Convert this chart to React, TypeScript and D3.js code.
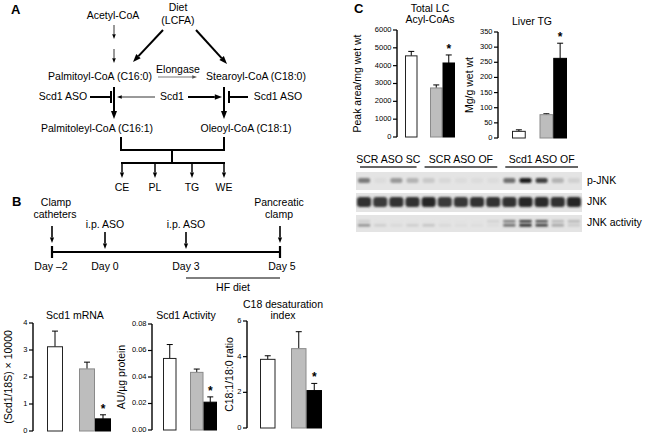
import * as d3 from 'd3';

const FONT = '"Liberation Sans", Arial, Helvetica, sans-serif';

// bar groups (same order in every bar chart)
const groups = ['SCR ASO SC', 'gap', 'SCR ASO OF', 'Scd1 ASO OF'];
const barGroups = ['SCR ASO SC', 'SCR ASO OF', 'Scd1 ASO OF'];

// panel B bar charts
const mrnaValues = [3.12, 2.3, 0.45];
const mrnaErr = [0.58, 0.25, 0.15];
const mrnaTicks = [0, 1, 2, 3, 4];

const activityValues = [0.054, 0.0435, 0.021];
const activityErr = [0.0105, 0.0025, 0.004];
const activityTicks = [0, 0.02, 0.04, 0.06, 0.08];

const desatValues = [3.85, 4.45, 2.1];
const desatErr = [0.2, 0.95, 0.4];
const desatTicks = [0, 2, 4, 6];

// panel C bar charts
const acylValues = [4550, 2750, 4150];
const acylErr = [250, 170, 450];
const acylTicks = [0, 1000, 2000, 3000, 4000, 5000, 6000];

const tgValues = [22, 77, 263];
const tgErr = [5, 3, 50];
const tgTicks = [0, 50, 100, 150, 200, 250, 300, 350];

const significant = [false, false, true];

// timeline
const timelineDays = [-2, 0, 3, 5];
const timelineLabels = ['Day \u20132', 'Day 0', 'Day 3', 'Day 5'];

// western blot lane intensities (14 lanes)
const blotGroups = ['SCR ASO SC', 'SCR ASO OF', 'Scd1 ASO OF'];
const blotGroupLanes = [4, 5, 5];
const pJnk = [0.5, 0.03, 0.35, 0.22, 0.12, 0.05, 0.03, 0.03, 0.03, 0.55, 0.95, 0.78, 0.22, 0.08];
const jnk = [0.85, 0.8, 0.85, 0.85, 0.9, 0.8, 0.82, 0.85, 0.85, 0.85, 0.9, 0.88, 0.85, 0.9];
const jnkActLow = [0.4, 0.1, 0.05, 0.1, 0.15, 0.05, 0.03, 0.03, 0.03, 0.6, 0.95, 0.85, 0.3, 0.12];
const jnkActHigh = [0.1, 0, 0, 0, 0, 0, 0, 0, 0.08, 0.5, 0.85, 0.7, 0.2, 0.2];

const fills = ['#ffffff', '#bdbdbd', '#000000'];
const strokes = ['#222', '#8a8a8a', '#000'];

type BarProps = {
  axisX: number;
  yTop: number;
  yBottom: number;
  x0: number;
  x1: number;
  values: number[];
  errs: number[];
  ticks: number[];
  fmt: (v: number) => string;
  title: string[];
  titleX: number;
  titleY: number;
  ylabel: string;
  ylabelX: number;
};

function BarChart(p: BarProps) {
  const max = p.ticks[p.ticks.length - 1];
  const y = d3.scaleLinear().domain([0, max]).range([p.yBottom, p.yTop]);
  const x = d3.scaleBand<string>().domain(groups).range([p.x0, p.x1]).padding(0);
  const bw = x.bandwidth();
  return (
    <g>
      {p.title.map((t, i) => (
        <text key={i} x={p.titleX} y={p.titleY + i * 11} textAnchor="middle" fontSize={10.5}>
          {t}
        </text>
      ))}
      <text
        transform={`translate(${p.ylabelX},${(p.yTop + p.yBottom) / 2}) rotate(-90)`}
        textAnchor="middle"
        dominantBaseline="middle"
        fontSize={10.5}
      >
        {p.ylabel}
      </text>
      <line x1={p.axisX} x2={p.axisX} y1={y(max)} y2={y(0)} stroke="#000" strokeWidth={1.4} />
      {p.ticks.map((t) => (
        <g key={t}>
          <line x1={p.axisX - 4} x2={p.axisX} y1={y(t)} y2={y(t)} stroke="#000" strokeWidth={1.2} />
          <text x={p.axisX - 5.5} y={y(t)} textAnchor="end" dominantBaseline="middle" fontSize={7.5}>
            {p.fmt(t)}
          </text>
        </g>
      ))}
      {barGroups.map((g, i) => {
        const bx = x(g)!;
        const top = y(p.values[i] + p.errs[i]);
        const cx = bx + bw / 2;
        return (
          <g key={g}>
            <line x1={cx} x2={cx} y1={y(p.values[i])} y2={top} stroke="#000" strokeWidth={1} />
            <line x1={cx - 3} x2={cx + 3} y1={top} y2={top} stroke="#000" strokeWidth={1} />
            <rect
              x={bx + 0.5}
              y={y(p.values[i])}
              width={bw - 1}
              height={y(0) - y(p.values[i])}
              fill={fills[i]}
              stroke={strokes[i]}
              strokeWidth={1}
            />
            {significant[i] && (
              <text x={cx} y={top - 2} textAnchor="middle" fontSize={12} fontWeight="bold">
                *
              </text>
            )}
          </g>
        );
      })}
    </g>
  );
}

function Arrow({
  x1,
  y1,
  x2,
  y2,
  w = 1,
  head = 5,
  color = '#000',
}: {
  x1: number;
  y1: number;
  x2: number;
  y2: number;
  w?: number;
  head?: number;
  color?: string;
}) {
  const a = Math.atan2(y2 - y1, x2 - x1);
  const hl = head * 1.6;
  const bx = x2 - hl * Math.cos(a);
  const by = y2 - hl * Math.sin(a);
  const px = Math.sin(a) * head * 0.6;
  const py = -Math.cos(a) * head * 0.6;
  return (
    <g>
      <line x1={x1} y1={y1} x2={bx} y2={by} stroke={color} strokeWidth={w} />
      <polygon points={`${x2},${y2} ${bx + px},${by + py} ${bx - px},${by - py}`} fill={color} />
    </g>
  );
}

function PanelA() {
  return (
    <g fontSize={10.5}>
      <text x={11} y={14} fontSize={13} fontWeight="bold">A</text>
      <text x={113} y={19} textAnchor="middle">Acetyl-CoA</text>
      <text x={178} y={11} textAnchor="middle">Diet</text>
      <text x={178} y={24} textAnchor="middle">(LCFA)</text>
      <Arrow x1={114} y1={25} x2={114} y2={39} w={0.8} head={3} />
      <Arrow x1={114} y1={49} x2={114} y2={63} w={0.8} head={3} />
      <Arrow x1={163} y1={30} x2={133} y2={62} w={2} head={5} />
      <Arrow x1={196} y1={30} x2={227} y2={64} w={2} head={5} />
      <text x={100} y={80} textAnchor="middle">Palmitoyl-CoA (C16:0)</text>
      <text x={178} y={73} textAnchor="middle">Elongase</text>
      <Arrow x1={158} y1={77} x2={197} y2={77} w={0.8} head={3} color="#555" />
      <text x={256} y={80} textAnchor="middle">Stearoyl-CoA (C18:0)</text>
      <Arrow x1={114} y1={87} x2={114} y2={119} w={2} head={5} />
      <Arrow x1={224} y1={87} x2={224} y2={119} w={2} head={5} />
      <text x={63} y={100} textAnchor="middle">Scd1 ASO</text>
      <line x1={90} x2={111} y1={97} y2={97} stroke="#000" strokeWidth={2} />
      <line x1={111} x2={111} y1={91} y2={103} stroke="#000" strokeWidth={2} />
      <text x={172} y={100} textAnchor="middle">Scd1</text>
      <Arrow x1={155} y1={97} x2={117} y2={97} w={0.8} head={3} />
      <Arrow x1={188} y1={97} x2={222} y2={97} w={2} head={4.5} />
      <line x1={248} x2={229} y1={97} y2={97} stroke="#000" strokeWidth={2} />
      <line x1={229} x2={229} y1={91} y2={103} stroke="#000" strokeWidth={2} />
      <text x={278} y={100} textAnchor="middle">Scd1 ASO</text>
      <text x={97} y={132} textAnchor="middle">Palmitoleyl-CoA (C16:1)</text>
      <text x={246} y={132} textAnchor="middle">Oleoyl-CoA (C18:1)</text>
      <path d="M121,137 V150 H224 V137" fill="none" stroke="#000" strokeWidth={2} />
      <line x1={172} x2={172} y1={150} y2={163} stroke="#000" strokeWidth={2} />
      <line x1={121} x2={225} y1={163} y2={163} stroke="#000" strokeWidth={2} />
      {[
        ['CE', 122],
        ['PL', 155],
        ['TG', 192],
        ['WE', 224],
      ].map(([l, x]) => (
        <g key={l as string}>
          <Arrow x1={x as number} y1={163} x2={x as number} y2={178} w={1.5} head={3.5} />
          <text x={x as number} y={191} textAnchor="middle">{l}</text>
        </g>
      ))}
    </g>
  );
}

function PanelB() {
  const x = d3.scaleLinear().domain(timelineDays).range([52, 105, 186, 280]);
  return (
    <g fontSize={10.5}>
      <text x={12} y={206} fontSize={13} fontWeight="bold">B</text>
      <text x={56} y={206} textAnchor="middle">Clamp</text>
      <text x={55} y={218} textAnchor="middle">catheters</text>
      <Arrow x1={x(-2)} y1={226} x2={x(-2)} y2={243} w={1.6} head={3.5} />
      <text x={x(0)} y={228} textAnchor="middle">i.p. ASO</text>
      <Arrow x1={x(0)} y1={232} x2={x(0)} y2={249} w={1.6} head={3.5} />
      <text x={x(3)} y={228} textAnchor="middle">i.p. ASO</text>
      <Arrow x1={x(3)} y1={232} x2={x(3)} y2={249} w={1.6} head={3.5} />
      <text x={x(5) - 1} y={206} textAnchor="middle">Pancreatic</text>
      <text x={x(5) - 1} y={218} textAnchor="middle">clamp</text>
      <Arrow x1={x(5)} y1={226} x2={x(5)} y2={243} w={1.6} head={3.5} />
      <line x1={x(-2)} x2={x(5)} y1={252} y2={252} stroke="#000" strokeWidth={2.2} />
      <line x1={x(-2)} x2={x(-2)} y1={246} y2={258} stroke="#000" strokeWidth={2.2} />
      <line x1={x(5)} x2={x(5)} y1={246} y2={258} stroke="#000" strokeWidth={2.2} />
      {timelineDays.map((d, i) => (
        <text key={d} x={x(d) + (i === 0 ? -1 : i === 3 ? 2 : 0)} y={270} textAnchor="middle">
          {timelineLabels[i]}
        </text>
      ))}
      <line x1={x(3)} x2={x(5)} y1={278} y2={278} stroke="#000" strokeWidth={1} />
      <text x={(x(3) + x(5)) / 2} y={291} textAnchor="middle">HF diet</text>
    </g>
  );
}

function Blot() {
  const lanes = d3.range(pJnk.length);
  const x = d3.scaleBand<number>().domain(lanes).range([356, 582]).padding(0);
  const bw = x.bandwidth();
  const strips = [
    { y: 172, h: 18, label: 'p-JNK' },
    { y: 193, h: 19, label: 'JNK' },
    { y: 215, h: 17, label: 'JNK activity' },
  ];
  let start = 0;
  const groupsPos = blotGroups.map((g, i) => {
    const s = start;
    start += blotGroupLanes[i];
    return { g, x0: x(s)! + 4, x1: x(s + blotGroupLanes[i] - 1)! + bw - 4 };
  });
  const grey = (v: number) => d3.interpolateRgb('#e2e2e2', '#111')(v);
  return (
    <g>
      <defs>
        <filter id="blur" x="-30%" y="-60%" width="160%" height="220%">
          <feGaussianBlur stdDeviation="1.2" />
        </filter>
      </defs>
      {groupsPos.map((g) => (
        <g key={g.g}>
          <text x={(g.x0 + g.x1) / 2} y={163} textAnchor="middle" fontSize={10.5}>
            {g.g}
          </text>
          <line x1={g.x0} x2={g.x1} y1={167} y2={167} stroke="#333" strokeWidth={1.3} />
        </g>
      ))}
      {strips.map((s) => (
        <g key={s.label}>
          <rect x={356} y={s.y} width={226} height={s.h} fill="#e4e4e4" />
          <text x={587} y={s.y + s.h / 2} dominantBaseline="middle" fontSize={10.5}>
            {s.label}
          </text>
        </g>
      ))}
      <g filter="url(#blur)">
        {lanes.map((i) => (
          <g key={i}>
            <rect x={x(i)! + 2} y={178} width={bw - 4} height={5} rx={2} fill={grey(pJnk[i])} />
            <rect x={x(i)! + 1} y={197} width={bw - 2} height={10} rx={3} fill={grey(jnk[i])} />
            <rect x={x(i)! + 2} y={224} width={bw - 4} height={2.5} fill={grey(jnkActLow[i])} />
            <rect x={x(i)! + 2} y={220} width={bw - 4} height={2.5} fill={grey(jnkActHigh[i])} />
          </g>
        ))}
      </g>
    </g>
  );
}

export default function App() {
  return (
    <svg
      width={645}
      height={437}
      viewBox="0 0 645 437"
      style={{ position: 'absolute', left: 0, top: 0, background: '#fff' }}
      fontFamily={FONT}
    >
      <PanelA />
      <PanelB />
      <BarChart
        axisX={33}
        yTop={323}
        yBottom={431}
        x0={47}
        x1={111}
        values={mrnaValues}
        errs={mrnaErr}
        ticks={mrnaTicks}
        fmt={d3.format('d')}
        title={['Scd1 mRNA']}
        titleX={75}
        titleY={319}
        ylabel="(Scd1/18S) × 10000"
        ylabelX={9}
      />
      <BarChart
        axisX={152}
        yTop={324}
        yBottom={430}
        x0={163}
        x1={217}
        values={activityValues}
        errs={activityErr}
        ticks={activityTicks}
        fmt={d3.format('.2f')}
        title={['Scd1 Activity']}
        titleX={186}
        titleY={319}
        ylabel="AU/µg protein"
        ylabelX={122}
      />
      <BarChart
        axisX={247}
        yTop={321}
        yBottom={428}
        x0={260}
        x1={322}
        values={desatValues}
        errs={desatErr}
        ticks={desatTicks}
        fmt={d3.format('d')}
        title={['C18 desaturation', 'index']}
        titleX={283}
        titleY={308}
        ylabel="C18:1/18:0 ratio"
        ylabelX={230}
      />
      <text x={354} y={13} fontSize={13} fontWeight="bold" fontFamily={FONT}>C</text>
      <BarChart
        axisX={397}
        yTop={30}
        yBottom={137}
        x0={405}
        x1={455}
        values={acylValues}
        errs={acylErr}
        ticks={acylTicks}
        fmt={d3.format('d')}
        title={['Total LC', 'Acyl-CoAs']}
        titleX={430}
        titleY={12}
        ylabel="Peak area/mg wet wt"
        ylabelX={358}
      />
      <BarChart
        axisX={498}
        yTop={32}
        yBottom={138}
        x0={512}
        x1={567}
        values={tgValues}
        errs={tgErr}
        ticks={tgTicks}
        fmt={d3.format('d')}
        title={['Liver TG']}
        titleX={532}
        titleY={25}
        ylabel="Mg/g wet wt"
        ylabelX={470}
      />
      <Blot />
    </svg>
  );
}
